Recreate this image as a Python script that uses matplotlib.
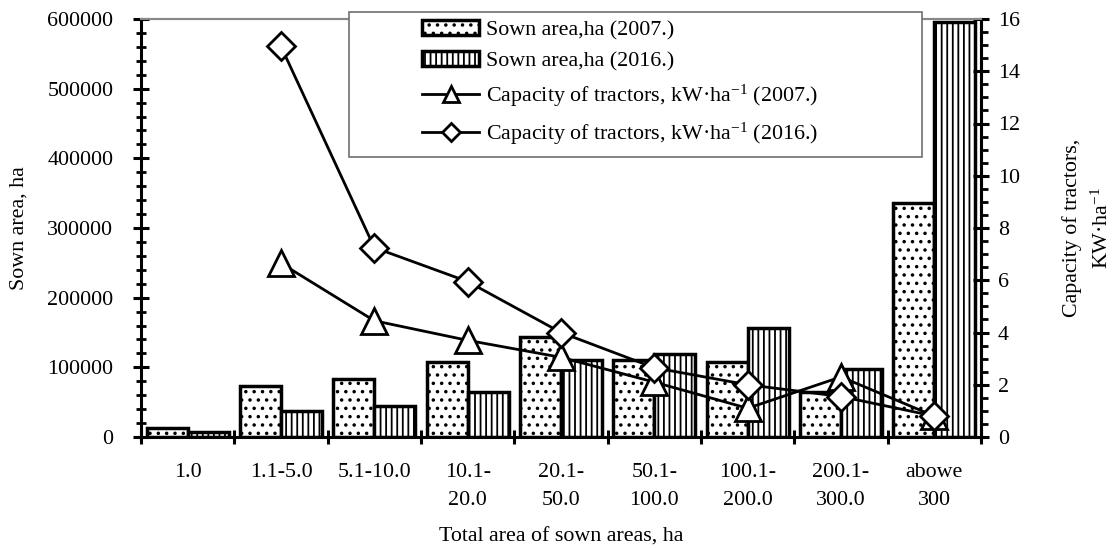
import numpy as np
import matplotlib
matplotlib.use('Agg')
import matplotlib.pyplot as plt
from matplotlib.patches import Rectangle, Patch
from matplotlib.lines import Line2D
from matplotlib.ticker import MultipleLocator, FixedLocator, NullFormatter

plt.rcParams['font.family'] = ['Liberation Serif', 'DejaVu Serif']
plt.rcParams['mathtext.fontset'] = 'custom'
plt.rcParams['mathtext.rm'] = 'Liberation Serif'
plt.rcParams['mathtext.it'] = 'Liberation Serif:italic'
plt.rcParams['hatch.linewidth'] = 1.3

# данные
categories = ['1.0', '1.1-5.0', '5.1-10.0', '10.1-\n20.0', '20.1-\n50.0',
              '50.1-\n100.0', '100.1-\n200.0', '200.1-\n300.0', 'abowe\n300']
area_2007 = [13000, 73000, 83000, 108000, 143000, 110000, 108000, 65000, 336000]
area_2016 = [7000, 38000, 45000, 65000, 111000, 119000, 157000, 98000, 595000]
cap_2007 = [np.nan, 6.65, 4.45, 3.7, 3.05, 2.1, 1.1, 2.3, 0.8]
cap_2016 = [np.nan, 14.95, 7.25, 5.95, 4.0, 2.65, 2.0, 1.55, 0.8]

fs = 15.8
x = np.arange(len(categories))
w = 0.44

fig = plt.figure(figsize=(11.12, 5.48), dpi=100)
ax = fig.add_axes([141 / 1112, 1 - 437 / 548, 840 / 1112, 418 / 548])

ax.bar(x - w / 2, area_2007, w, color='white', edgecolor='black', linewidth=2.5, hatch='..')
ax.bar(x + w / 2, area_2016, w, color='white', edgecolor='black', linewidth=2.5, hatch='|||')

ax.set_xlim(-0.5, len(categories) - 0.5)
ax.set_ylim(0, 600000)
ax.yaxis.set_major_locator(MultipleLocator(100000))
ax.yaxis.set_minor_locator(MultipleLocator(20000))
ax.tick_params(axis='y', which='major', direction='inout', length=12, width=2.2, labelsize=fs, pad=14)
ax.tick_params(axis='y', which='minor', direction='inout', length=7, width=2)

# подписи категорий на minor, деления на границах
ax.xaxis.set_major_locator(FixedLocator(np.arange(-0.5, len(categories), 1.0)))
ax.xaxis.set_major_formatter(NullFormatter())
ax.xaxis.set_minor_locator(FixedLocator(x))
ax.set_xticklabels(categories, minor=True, fontsize=fs, linespacing=1.65)
ax.tick_params(axis='x', which='major', direction='inout', length=10, width=2.2)
ax.tick_params(axis='x', which='minor', length=0, pad=19)

for s in ['left', 'bottom', 'right']:
    ax.spines[s].set_linewidth(2.2)
ax.spines['top'].set_color('#888888')
ax.spines['top'].set_linewidth(1.5)

ax.set_ylabel('Sown area, ha', fontsize=fs)
ax.yaxis.set_label_coords(-0.134, 0.5)
ax.set_xlabel('Total area of sown areas, ha', fontsize=fs)
ax.xaxis.set_label_coords(0.5, -0.216)

ax2 = ax.twinx()
ax2.plot(x, cap_2007, color='black', linewidth=2, marker='^', markersize=19,
         markerfacecolor='white', markeredgecolor='black', markeredgewidth=2)
ax2.plot(x, cap_2016, color='black', linewidth=2, marker='D', markersize=14,
         markerfacecolor='white', markeredgecolor='black', markeredgewidth=2)
ax2.set_ylim(0, 16)
ax2.yaxis.set_major_locator(MultipleLocator(2))
ax2.yaxis.set_minor_locator(MultipleLocator(0.5))
ax2.tick_params(axis='y', which='major', direction='inout', length=12, width=2.2, labelsize=fs, pad=6)
ax2.tick_params(axis='y', which='minor', direction='out', length=5, width=2)
ax2.spines['right'].set_linewidth(2.2)
ax2.spines['left'].set_visible(False)
ax2.spines['bottom'].set_visible(False)
ax2.spines['top'].set_color('#888888')
ax2.spines['top'].set_linewidth(1.5)
ax2.set_ylabel('Capacity of tractors,\nKW·ha$^{-1}$', fontsize=fs, rotation=90, ma='center',
               linespacing=1.6)
ax2.yaxis.set_label_coords(1.096, 0.5)

# легенда
fig.add_artist(Rectangle((349 / 1112, 1 - 157 / 548), 573 / 1112, 145 / 548,
                         transform=fig.transFigure, facecolor='white',
                         edgecolor='#707070', linewidth=1.2, zorder=4))
handles = [
    Patch(facecolor='white', edgecolor='black', linewidth=2.5, hatch='..'),
    Patch(facecolor='white', edgecolor='black', linewidth=2.5, hatch='|||'),
    Line2D([], [], color='black', linewidth=2, marker='^', markersize=12,
           markerfacecolor='white', markeredgewidth=2),
    Line2D([], [], color='black', linewidth=2, marker='D', markersize=9,
           markerfacecolor='white', markeredgewidth=2),
]
labels = ['Sown area,ha (2007.)', 'Sown area,ha (2016.)',
          'Capacity of tractors, kW·ha$^{-1}$ (2007.)',
          'Capacity of tractors, kW·ha$^{-1}$ (2016.)']
leg = fig.legend(handles, labels, loc='upper left', bbox_to_anchor=(422 / 1112, 1 - 20 / 548),
                 frameon=False, fontsize=fs, borderpad=0, borderaxespad=0,
                 handlelength=2.6, handleheight=0.65, handletextpad=0.3, labelspacing=0.52)
leg.set_zorder(5)

fig.savefig('out.png', dpi=100)
